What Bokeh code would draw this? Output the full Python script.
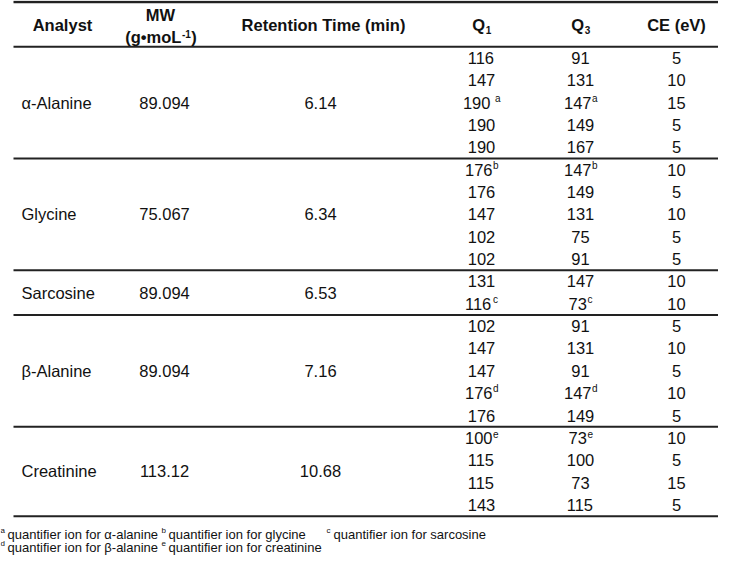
from bokeh.plotting import figure
from bokeh.models import Range1d, ColumnDataSource
from bokeh.core.properties import value
from bokeh.embed import file_html
from bokeh.resources import INLINE

# ---------------- data ----------------
analytes = ["α-Alanine", "Glycine", "Sarcosine", "β-Alanine", "Creatinine"]
mw = ["89.094", "75.067", "89.094", "89.094", "113.12"]
rt = ["6.14", "6.34", "6.53", "7.16", "10.68"]
n_trans = [5, 5, 2, 5, 4]
q1 = ["116", "147", "190", "190", "190",
      "176", "176", "147", "102", "102",
      "131", "116",
      "102", "147", "147", "176", "176",
      "100", "115", "115", "143"]
q1_note = ["", "", " a", "", "",
           "b", "", "", "", "",
           "", "c",
           "", "", "", "d", "",
           "e", "", "", ""]
q3 = ["91", "131", "147", "149", "167",
      "147", "149", "131", "75", "91",
      "147", "73",
      "91", "131", "91", "147", "149",
      "73", "100", "73", "115"]
q3_note = ["", "", "a", "", "",
           "b", "", "", "", "",
           "", "c",
           "", "", "", "d", "",
           "e", "", "", ""]
ce = ["5", "10", "15", "5", "5",
      "10", "5", "10", "5", "5",
      "10", "10",
      "5", "10", "5", "10", "5",
      "10", "5", "15", "5"]
header_labels = ["Analyst", "MW", "Retention Time (min)", "Q", "Q", "CE (eV)"]
mw_unit = ["(g•moL", "-1", ")"]
q_subs = ["1", "3"]
note_letters = ["a", "b", "c", "d", "e"]
note_texts = ["quantifier ion for α-alanine", "quantifier ion for glycine",
              "quantifier ion for sarcosine", "quantifier ion for β-alanine",
              "quantifier ion for creatinine"]

# ---------------- layout ----------------
FONT = value("Liberation Sans")
FS = 16.5          # body font px
FS_SUP = 10.0
INK = "#111111"
RULE = "#222222"
X_NAME, X_NAME_H = 29, 70
X_MW_H, X_MW, X_RT_H, X_RT = 168, 172, 331, 328
X_Q1, X_Q3, X_CE = 489, 588, 684
Y_HDR_LINE, ROW_H = 47.5, 23.0
LINE_X0, LINE_X1 = 21, 734

# x in screen pixels (page margin 8), y compressed slightly to fit the window
p = figure(width=718, height=556, x_range=Range1d(8, 726), y_range=Range1d(572, 0),
           output_backend="svg", toolbar_location=None, min_border=0)
p.axis.visible = False
p.grid.visible = False
p.outline_line_color = None


def row_y(i):
    return Y_HDR_LINE + ROW_H * (i + 0.5)


# horizontal rules
rule_y = [1.5, Y_HDR_LINE]
rule_w = [2.5, 2.0]
acc = 0
for n in n_trans:
    acc += n
    rule_y.append(Y_HDR_LINE + ROW_H * acc)
    rule_w.append(2.0)
p.segment(x0=[LINE_X0] * len(rule_y), x1=[LINE_X1] * len(rule_y), y0=rule_y, y1=rule_y,
          line_width=rule_w, line_color=RULE)

# header
hdr = dict(text_font=FONT, text_font_style="bold", text_font_size=f"{FS}px",
           text_color=INK, text_baseline="middle")
sup_b = dict(text_font=FONT, text_font_style="bold", text_font_size=f"{FS_SUP}px",
             text_color=INK, text_baseline="middle", text_align="left")
p.text(x=[X_NAME_H], y=[25], text=[header_labels[0]], text_align="center", **hdr)
p.text(x=[X_MW_H], y=[15], text=[header_labels[1]], text_align="center", **hdr)
p.text(x=[X_RT_H], y=[25], text=[header_labels[2]], text_align="center", **hdr)
p.text(x=[X_CE], y=[25], text=[header_labels[5]], text_align="center", **hdr)
# (g•moL-1)
w_a = (0.333 + 0.611 + 0.35 + 0.889 + 0.611 + 0.611) * FS   # "(g•moL"
w_b = (0.333 + 0.556) * FS_SUP
w_c = 0.333 * FS
left = X_MW_H - (w_a + w_b + w_c) / 2
p.text(x=[left], y=[38], text=[mw_unit[0]], text_align="left", **hdr)
p.text(x=[left + w_a + 0.5], y=[34], text=[mw_unit[1]], **sup_b)
p.text(x=[left + w_a + w_b + 1], y=[38], text=[mw_unit[2]], text_align="left", **hdr)
# Q1 / Q3 with subscripts
for cx, lab, sub in [(X_Q1, header_labels[3], q_subs[0]), (X_Q3, header_labels[4], q_subs[1])]:
    wq = 0.778 * FS
    ws = 0.556 * FS_SUP
    l = cx - (wq + ws) / 2
    p.text(x=[l], y=[25], text=[lab], text_align="left", **hdr)
    p.text(x=[l + wq + 0.5], y=[30], text=[sub], **sup_b)

body = dict(text_font=FONT, text_font_size=f"{FS}px", text_color=INK, text_baseline="middle")

# group columns (analyte, MW, RT)
gy = []
acc = 0
for n in n_trans:
    gy.append(row_y(acc + (n - 1) / 2))
    acc += n
src_g = ColumnDataSource(dict(y=gy, name=analytes, mw=mw, rt=rt,
                              xn=[X_NAME] * 5, xm=[X_MW] * 5, xr=[X_RT] * 5))
p.text(x="xn", y="y", text="name", source=src_g, text_align="left", **body)
p.text(x="xm", y="y", text="mw", source=src_g, text_align="center", **body)
p.text(x="xr", y="y", text="rt", source=src_g, text_align="center", **body)

# transition columns
ry = [row_y(i) for i in range(len(q1))]
num_x, num_y, num_t, sup_x, sup_y, sup_t = [], [], [], [], [], []
for cx, vals, notes in [(X_Q1, q1, q1_note), (X_Q3, q3, q3_note)]:
    for i, (v, nt) in enumerate(zip(vals, notes)):
        wn = 0.556 * FS * len(v)
        if nt:
            gap = 0.278 * FS if nt.startswith(" ") else 0.5
            ws = 0.5 * FS_SUP
            l = cx - (wn + gap + ws) / 2
            num_x.append(l); num_y.append(ry[i]); num_t.append(v)
            sup_x.append(l + wn + gap); sup_y.append(ry[i] - 4.5); sup_t.append(nt.strip())
        else:
            num_x.append(cx - wn / 2); num_y.append(ry[i]); num_t.append(v)
for i, v in enumerate(ce):
    num_x.append(X_CE - 0.556 * FS * len(v) / 2); num_y.append(ry[i]); num_t.append(v)
p.text(x="x", y="y", text="t", source=ColumnDataSource(dict(x=num_x, y=num_y, t=num_t)),
       text_align="left", **body)
p.text(x="x", y="y", text="t", source=ColumnDataSource(dict(x=sup_x, y=sup_y, t=sup_t)),
       text_align="left", text_font=FONT, text_font_size=f"{FS_SUP}px", text_color=INK,
       text_baseline="middle")

# footnotes
FN = 13.0
fn_pos = [(8, 549.5), (169, 549.5), (334, 549.5), (8, 563), (169, 563)]
p.text(x=[fx + 7 for fx, fy in fn_pos], y=[fy for fx, fy in fn_pos], text=note_texts,
       text_align="left", text_font=FONT, text_font_size=f"{FN}px", text_color=INK,
       text_baseline="middle")
p.text(x=[fx for fx, fy in fn_pos], y=[fy - 4 for fx, fy in fn_pos], text=note_letters,
       text_align="left", text_font=FONT, text_font_size="8px", text_color=INK,
       text_baseline="middle")

open("out.html", "w").write(file_html(p, INLINE))
